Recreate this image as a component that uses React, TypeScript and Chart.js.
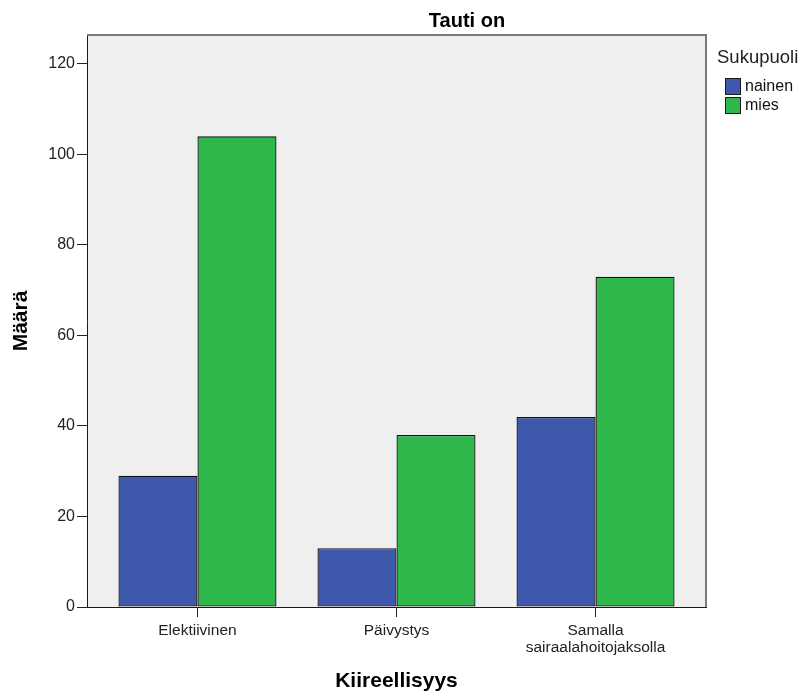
import React, { useEffect, useRef } from "react";
import { Chart, registerables } from "chart.js";

Chart.register(...registerables);

const categories: (string | string[])[] = [
  "Elektiivinen",
  "Päivystys",
  ["Samalla", "sairaalahoitojaksolla"],
];
const nainen = [29, 13, 42];
const mies = [104, 38, 73];
const seriesNames = ["nainen", "mies"];
const seriesColors = ["#3e58ac", "#2eb84b"];
const yTicks = [0, 20, 40, 60, 80, 100, 120];
const chartTitle = "Tauti on";
const xTitle = "Kiireellisyys";
const yTitle = "Määrä";
const legendTitle = "Sukupuoli";

const FONT = "'Liberation Sans', Arial, sans-serif";

const decorPlugin = {
  id: "decor",
  beforeDraw(chart: any) {
    const { ctx, chartArea } = chart;
    ctx.save();
    ctx.fillStyle = "#efefef";
    ctx.fillRect(chartArea.left, chartArea.top, chartArea.right - chartArea.left, chartArea.bottom - chartArea.top);
    ctx.restore();
  },
  afterDraw(chart: any) {
    const { ctx, chartArea } = chart;
    ctx.save();
    ctx.strokeStyle = "#7a7a7a";
    ctx.lineWidth = 2;
    ctx.beginPath();
    ctx.moveTo(chartArea.left, chartArea.top);
    ctx.lineTo(chartArea.right, chartArea.top);
    ctx.lineTo(chartArea.right, chartArea.bottom);
    ctx.stroke();
    ctx.fillStyle = "#000";
    ctx.font = `bold 20px ${FONT}`;
    ctx.textAlign = "center";
    ctx.textBaseline = "alphabetic";
    ctx.fillText(chartTitle, 467, 27);
    ctx.font = `18.5px ${FONT}`;
    ctx.textAlign = "left";
    ctx.fillStyle = "#222";
    ctx.fillText(legendTitle, 717, 63);
    ctx.font = `16px ${FONT}`;
    seriesNames.forEach((name, i) => {
      const y = 78 + i * 19;
      ctx.fillStyle = seriesColors[i];
      ctx.fillRect(725, y, 15, 16);
      ctx.strokeStyle = "#1a1a1a";
      ctx.lineWidth = 1;
      ctx.strokeRect(725.5, y + 0.5, 15, 16);
      ctx.fillStyle = "#111";
      ctx.textBaseline = "middle";
      ctx.fillText(name, 745, y + 9);
    });
    ctx.restore();
  },
};

export default function App() {
  const ref = useRef<HTMLCanvasElement | null>(null);
  useEffect(() => {
    if (!ref.current) return;
    const chart = new Chart(ref.current, {
      type: "bar",
      data: {
        datasets: [
          {
            label: seriesNames[0],
            data: nainen.map((v, i) => ({ x: i, y: v })),
            backgroundColor: seriesColors[0],
            borderColor: "#111",
            borderWidth: 1.3,
            borderSkipped: false,
          },
          {
            label: seriesNames[1],
            data: mies.map((v, i) => ({ x: i, y: v })),
            backgroundColor: seriesColors[1],
            borderColor: "#111",
            borderWidth: 1.3,
            borderSkipped: false,
          },
        ],
      },
      options: {
        animation: false,
        responsive: false,
        maintainAspectRatio: false,
        devicePixelRatio: 1,
        layout: { padding: { top: 35, right: 100, left: 0, bottom: 0 } },
        datasets: { bar: { categoryPercentage: 0.794, barPercentage: 1 } },
        plugins: {
          legend: { display: false },
          tooltip: { enabled: false },
          title: { display: false },
        },
        scales: {
          x: {
            type: "linear",
            min: -0.555,
            max: 2.555,
            offset: false,
            afterBuildTicks: (scale: any) => {
              scale.ticks = categories.map((_, i) => ({ value: i }));
            },
            afterFit: (scale: any) => {
              scale.height = 91;
            },
            ticks: {
              autoSkip: false,
              maxRotation: 0,
              padding: 5,
              color: "#222",
              font: { family: FONT, size: 15.5, lineHeight: 1.1 },
              callback: (v: any) => categories[v as number] ?? "",
            },
            grid: { offset: false, drawOnChartArea: false, drawTicks: true, tickLength: 10, color: "#222" },
            border: { display: true, color: "#1a1a1a", width: 1 },
            title: {
              display: true,
              text: xTitle,
              color: "#000",
              font: { family: FONT, size: 21, weight: "bold" },
              padding: { top: 4, bottom: 4 },
            },
          },
          y: {
            min: 0,
            max: 126.4,
            afterBuildTicks: (scale: any) => {
              scale.ticks = yTicks.map((v) => ({ value: v }));
            },
            afterFit: (scale: any) => {
              scale.width = 87;
            },
            ticks: {
              padding: 2,
              color: "#222",
              font: { family: FONT, size: 16 },
            },
            grid: { drawOnChartArea: false, drawTicks: true, tickLength: 10, color: "#222" },
            border: { display: true, color: "#1a1a1a", width: 1 },
            title: {
              display: true,
              text: yTitle,
              color: "#000",
              font: { family: FONT, size: 21, weight: "bold" },
              padding: { top: 9, bottom: 2 },
            },
          },
        },
      },
      plugins: [decorPlugin],
    } as any);
    return () => chart.destroy();
  }, []);
  return (
    <div style={{ position: "absolute", left: 0, top: 0, width: 806, height: 698 }}>
      <canvas ref={ref} width={806} height={698} style={{ display: "block", width: 806, height: 698 }} />
    </div>
  );
}
